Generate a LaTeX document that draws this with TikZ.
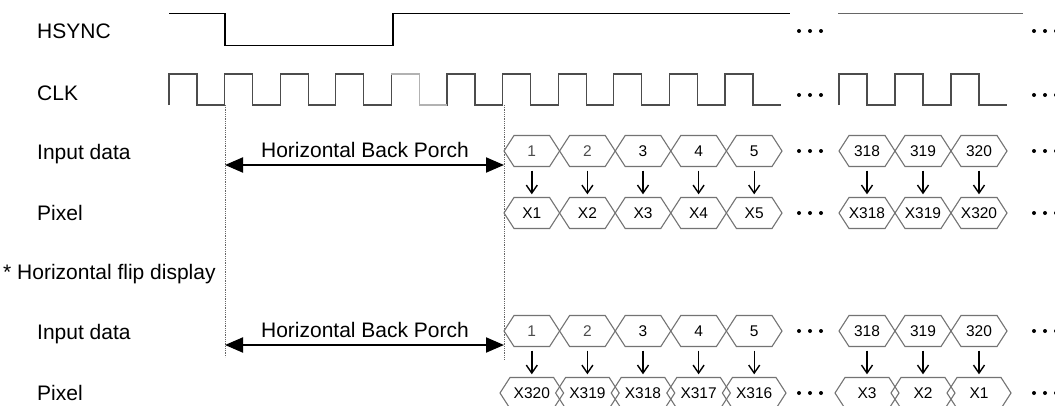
\documentclass[tikz,border=0pt]{standalone}
\usepackage{fontspec}
\setmainfont{Liberation Sans}
\usetikzlibrary{arrows.meta}
\newcommand\hexcell[6]{% name, xleft, xright, yc, text, text colour
  \draw[bus] (#2,#4) -- (#2+10,#4-15.5) -- (#3-10,#4-15.5) -- (#3,#4) -- (#3-10,#4+15.5) -- (#2+10,#4+15.5) -- cycle;
  \node[hx,text=#6] (#1) at ({(#2+#3)/2},#4) {#5};
}
\newcommand\threedots[2]{% x, y
  \fill (#1,#2) circle (2) (#1+11,#2) circle (2) (#1+22,#2) circle (2);
}
\begin{document}
\begin{tikzpicture}[x=1pt,y=-1pt,
  lbl/.style={anchor=base west, inner sep=0, font=\fontsize{21}{24}\selectfont},
  porchtxt/.style={inner sep=0, font=\fontsize{21}{24}\selectfont},
  sig/.style={line width=1.7pt, black},
  clk/.style={line width=1.2pt, black!70},
  bus/.style={line width=1.1pt, black!55},
  hx/.style={font=\fontsize{15.5}{17}\selectfont, inner sep=0, minimum height=31pt, minimum width=30pt},
  dotline/.style={densely dotted, line width=0.8pt, black!60},
  porch/.style={line width=2pt, {Triangle[length=18pt,width=15pt]}-{Triangle[length=18pt,width=15pt]}},
  darr/.style={-{Straight Barb[length=8pt,width=11pt]}, line width=1.4pt, shorten <=4pt, shorten >=3pt}]
\useasboundingbox (0,0) rectangle (1055,405);
\clip (0,0) rectangle (1055,405);

% labels
\node[lbl] (lhs) at (37,38) {HSYNC};
\node[lbl] (lclk) at (37,100) {CLK};
\node[lbl] (lin1) at (37,159) {Input data};
\node[lbl] (lpx1) at (37,220) {Pixel};
\node[lbl] (lflip) at (3,279) {* Horizontal flip display};
\node[lbl] (lin2) at (37,339) {Input data};
\node[lbl] (lpx2) at (37,400) {Pixel};

% HSYNC
\draw[sig] (169,13.5) -- (225,13.5) -- (225,45.5) -- (393,45.5) -- (393,13.5) -- (790,13.5);
\draw[sig, black!60] (838,13.5) -- (1023,13.5);

% CLK
\draw[clk] (169,105) foreach \k in {0,...,10} { -- ++(0,-31) -- ++(28,0) -- ++(0,31) -- ++(27.6,0) };
\draw[clk, black!30] (391.4,74) -- ++(28,0) -- ++(0,31) -- ++(27.6,0);
\draw[clk] (839,105) foreach \k in {0,...,2} { -- ++(0,-31) -- ++(28,0) -- ++(0,31) -- ++(28,0) };

% dotted guides
\draw[dotline] (225,105) -- (225,357);
\draw[dotline] (504,105) -- (504,360);

% dots
\threedots{799}{31}
\threedots{799}{95}
\threedots{1034}{31}
\threedots{1034}{95}
\foreach \yy in {151,213,331,393} {
  \threedots{799}{\yy}
  \threedots{1034}{\yy}
}

% back porch arrows
\draw[porch] (225,165) -- (504,165);
\node[porchtxt] (hbp1) at (365,150) {Horizontal Back Porch};
\draw[porch] (225,345) -- (504,345);
\node[porchtxt] (hbp2) at (365,330) {Horizontal Back Porch};

% ---- section 1 ----
\hexcell{a1}{504}{559.6}{151}{1}{black!70}
\hexcell{a2}{559.6}{615.2}{151}{2}{black!70}
\hexcell{a3}{615.2}{670.8}{151}{3}{black}
\hexcell{a4}{670.8}{726.4}{151}{4}{black}
\hexcell{a5}{726.4}{782}{151}{5}{black}
\hexcell{a318}{839}{895}{151}{318}{black}
\hexcell{a319}{895}{951}{151}{319}{black}
\hexcell{a320}{951}{1007}{151}{320}{black}

\hexcell{b1}{504}{559.6}{213}{X1}{black}
\hexcell{b2}{559.6}{615.2}{213}{X2}{black}
\hexcell{b3}{615.2}{670.8}{213}{X3}{black}
\hexcell{b4}{670.8}{726.4}{213}{X4}{black}
\hexcell{b5}{726.4}{782}{213}{X5}{black}
\hexcell{b318}{839}{895}{213}{X318}{black}
\hexcell{b319}{895}{951}{213}{X319}{black}
\hexcell{b320}{951}{1007}{213}{X320}{black}

\foreach \n in {1,2,3,4,5,318,319,320} { \draw[darr] (a\n) -- (b\n); }

% ---- section 2 ----
\hexcell{c1}{504}{559.6}{331}{1}{black!70}
\hexcell{c2}{559.6}{615.2}{331}{2}{black!70}
\hexcell{c3}{615.2}{670.8}{331}{3}{black}
\hexcell{c4}{670.8}{726.4}{331}{4}{black}
\hexcell{c5}{726.4}{782}{331}{5}{black}
\hexcell{c318}{839}{895}{331}{318}{black}
\hexcell{c319}{895}{951}{331}{319}{black}
\hexcell{c320}{951}{1007}{331}{320}{black}

\hexcell{d1}{500}{563.6}{393}{X320}{black}
\hexcell{d2}{555.6}{619.2}{393}{X319}{black}
\hexcell{d3}{611.2}{674.8}{393}{X318}{black}
\hexcell{d4}{666.8}{730.4}{393}{X317}{black}
\hexcell{d5}{722.4}{786}{393}{X316}{black}
\hexcell{d318}{835}{899}{393}{X3}{black}
\hexcell{d319}{891}{955}{393}{X2}{black}
\hexcell{d320}{947}{1011}{393}{X1}{black}

\foreach \n in {1,2,3,4,5,318,319,320} { \draw[darr] (c\n) -- (d\n); }
\end{tikzpicture}
\end{document}
